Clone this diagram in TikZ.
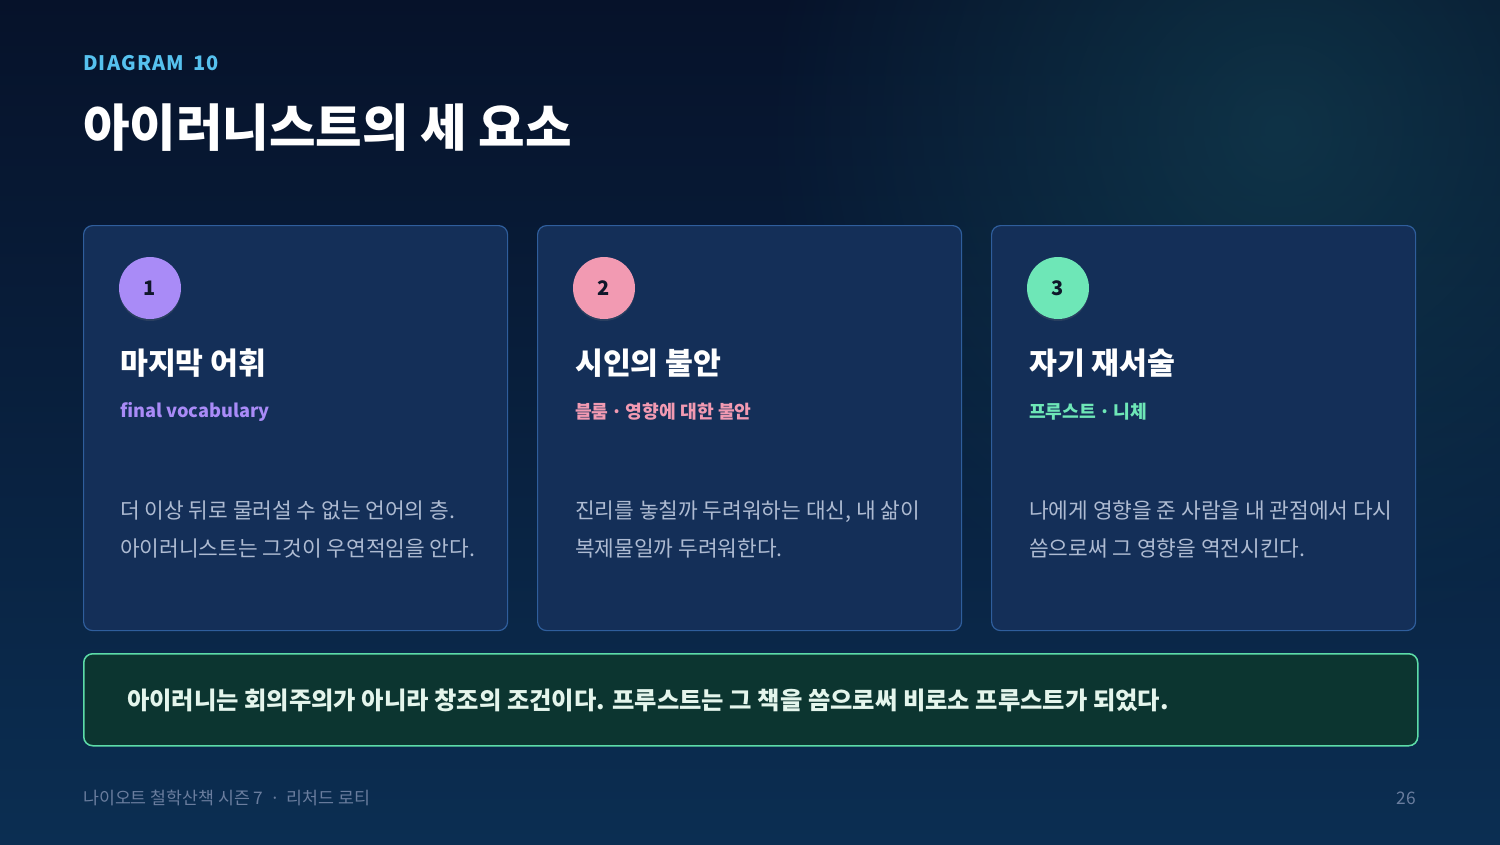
\documentclass[tikz,border=0pt]{standalone}
\usepackage{fontspec}
\setmainfont{Noto Sans CJK KR}
\usetikzlibrary{shadows,fadings}
\definecolor{bgtop}{HTML}{06122A}
\definecolor{bgbot}{HTML}{0B2E52}
\definecolor{glow}{HTML}{144656}
\definecolor{cardfill}{HTML}{142F58}
\definecolor{cardline}{HTML}{2F5E9C}
\definecolor{notefill}{HTML}{0C3530}
\definecolor{noteline}{HTML}{5CDCA8}
\definecolor{kicker}{HTML}{56C1EE}
\definecolor{violet}{HTML}{A98BF7}
\definecolor{rose}{HTML}{F29AB2}
\definecolor{mint}{HTML}{6EE7B7}
\definecolor{badgetext}{HTML}{0F172A}
\definecolor{bodytext}{HTML}{AEBBD2}
\definecolor{foottext}{HTML}{6A7D9E}
\definecolor{notetext}{HTML}{E4F5EC}
\tikzfading[name=softglow,inner color=transparent!0,outer color=transparent!100]
\newcommand{\middot}{\hspace{-0.06em}·\hspace{-0.06em}}

\begin{document}
\begin{tikzpicture}[x=1pt,y=-1pt,
  card/.style={draw=cardline,fill=cardfill,line width=1.2pt,rounded corners=9pt,
    minimum width=424pt,minimum height=405pt,anchor=north west,inner sep=0pt},
  badge/.style={circle,minimum size=62pt,inner sep=0pt,text=badgetext,
    font=\bfseries\fontsize{20}{20}\selectfont,
    drop shadow={opacity=0.2,shadow xshift=0pt,shadow yshift=-2pt}},
  head/.style={anchor=west,inner sep=0pt,text=white,font=\bfseries\fontsize{30.3}{30}\selectfont},
  sub/.style={anchor=west,inner sep=0pt,font=\bfseries\fontsize{18.2}{18}\selectfont},
  body/.style={anchor=west,inner sep=0pt,align=left,text=bodytext,font=\fontsize{21.4}{38}\selectfont}]
% background
\useasboundingbox (0,0) rectangle (1500,844);
\shade[top color=bgtop,bottom color=bgbot] (0,0) rectangle (1500,844);
\fill[glow,opacity=0.6,path fading=softglow] (1280,130) circle (520);
% heading
\node[anchor=west,inner sep=0pt,text=kicker,font=\bfseries\fontsize{20}{20}\selectfont\addfontfeature{LetterSpace=6}] (kick) at (83,63) {DIAGRAM\, 10};
\node[anchor=west,inner sep=0pt,text=white,font=\bfseries\fontsize{50.6}{50}\selectfont] (title) at (83,128) {아이러니스트의 세 요소};
% cards
\node[card] (c1) at (83,225) {};
\node[card] (c2) at (537,225) {};
\node[card] (c3) at (991,225) {};
\node[badge,fill=violet] (b1) at (150,288) {1};
\node[badge,fill=rose] (b2) at (604,288) {2};
\node[badge,fill=mint] (b3) at (1058,288) {3};
\node[head] (h1) at (120,363) {마지막 어휘};
\node[head] (h2) at (575,363) {시인의 불안};
\node[head] (h3) at (1029,363) {자기 재서술};
\node[sub,text=violet] (s1) at (120,412) {final vocabulary};
\node[sub,text=rose] (s2) at (575,412) {블룸 \middot{} 영향에 대한 불안};
\node[sub,text=mint] (s3) at (1029,412) {프루스트 \middot{} 니체};
\node[body] (t1) at (120,529) {더 이상 뒤로 물러설 수 없는 언어의 층.\\아이러니스트는 그것이 우연적임을 안다.};
\node[body] (t2) at (575,529) {진리를 놓칠까 두려워하는 대신, 내 삶이\\복제물일까 두려워한다.};
\node[body] (t3) at (1029,529) {나에게 영향을 준 사람을 내 관점에서 다시\\씀으로써 그 영향을 역전시킨다.};
% conclusion
\node[draw=noteline,fill=notefill,line width=1.5pt,rounded corners=9pt,minimum width=1334pt,
  minimum height=92pt,anchor=north west] (note) at (83,653) {};
\node[anchor=west,inner sep=0pt,text=notetext,font=\bfseries\fontsize{24.3}{24}\selectfont] (notetxt) at (127,700)
  {아이러니는 회의주의가 아니라 창조의 조건이다. 프루스트는 그 책을 씀으로써 비로소 프루스트가 되었다.};
% footer
\node[anchor=west,inner sep=0pt,text=foottext,font=\fontsize{17.3}{17}\selectfont] (foot) at (83,798) {나이오트 철학산책 시즌 7 \,·\, 리처드 로티};
\node[anchor=east,inner sep=0pt,text=foottext,font=\fontsize{17.3}{17}\selectfont] (page) at (1416,798) {26};
\end{tikzpicture}
\end{document}
